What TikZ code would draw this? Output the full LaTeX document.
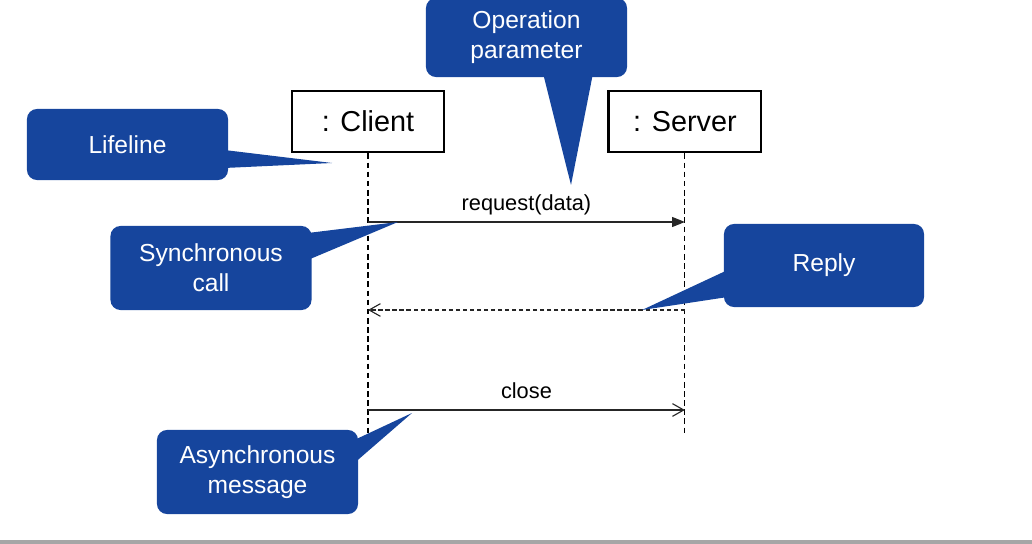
\documentclass[tikz,border=0pt]{standalone}
\usepackage{fontspec}
\setmainfont{Liberation Sans}
\usetikzlibrary{positioning, arrows.meta, calc}
\definecolor{calloutblue}{RGB}{22,69,157}
\definecolor{rulegray}{RGB}{166,166,166}
\newcommand{\Pointer}[3]{\fill[calloutblue] (#1) -- (#2) -- (#3) -- cycle;}
\tikzset{
    object/.style={draw, line width=2pt, minimum width=3.8cm, minimum height=1.525cm,
      inner sep=0pt, font=\fontsize{20.5pt}{24pt}\selectfont},
    lifeline/.style={line width=0.8pt, dash pattern=on 4pt off 2.5pt},
    note/.style={fill=calloutblue, rounded corners=0.25cm, text=white, align=center,
      minimum width=5.025cm, inner sep=0pt, font=\fontsize{17.5pt}{21.3pt}\selectfont},
    msg/.style={line width=0.8pt, draw=black!85},
    reply/.style={msg, dash pattern=on 3pt off 2pt, -{Straight Barb[length=8pt, width=9pt]}},
    msglabel/.style={above=2.5pt, text height=0.75em, text depth=0.22em,
      font=\fontsize{15.5pt}{18pt}\selectfont},
}
\begin{document}
\begin{tikzpicture}[x=0.025cm, y=-0.025cm]
    \useasboundingbox (0,0) rectangle (1032,544);
    \fill[rulegray] (0,540) rectangle (1032,544);

    \node[object] (client) at (368,121.5) {: Client};
    \node[object, right=4.05cm of client] (server) {: Server};
    \coordinate (clientend) at (client.south |- 0,435);
    \coordinate (serverend) at (server.south |- 0,435);
    \draw[lifeline] (client.south) -- (clientend);
    \draw[lifeline] (server.south) -- (serverend);

    % messages
    \coordinate (c1) at (client |- 0,222);
    \coordinate (s1) at (server |- 0,222);
    \coordinate (c2) at (client |- 0,310);
    \coordinate (s2) at (server |- 0,310);
    \coordinate (c3) at (client |- 0,410);
    \coordinate (s3) at (server |- 0,410);
    \draw[msg, -{Triangle[length=9pt, width=7pt]}] (c1) -- node[msglabel] {request(data)} (s1);
    \draw[reply] (s2) -- (c2);
    \draw[msg, -{Straight Barb[length=8pt, width=9pt]}] (c3) -- node[msglabel] {close} (s3);

    % callouts
    \node[note, minimum height=1.775cm] (lifenote) at (127.5,144.5) {Lifeline};
    \coordinate (lifetip) at (332,163);
    \Pointer{$(lifenote.east)+(-4,5.5)$}{lifetip}{$(lifenote.east)+(-4,23.5)$}

    \node[note, minimum height=1.975cm] (paramnote) at (526.5,37.5) {Operation\\parameter};
    \coordinate (paramtip) at (571,185);
    \Pointer{$(paramnote.south)+(16.5,-4)$}{paramtip}{$(paramnote.south)+(66.5,-4)$}

    \node[note, minimum height=2.1cm] (syncnote) at (211,268) {Synchronous\\call};
    \coordinate (synctip) at (398,222);
    \Pointer{$(syncnote.east)+(-4,-35)$}{synctip}{$(syncnote.east)+(-4,-8)$}

    \node[note, minimum width=5cm, minimum height=2.075cm] (replynote) at (824,265.5) {Reply};
    \coordinate (replytip) at (642,310);
    \Pointer{$(replynote.west)+(4,4.5)$}{replytip}{$(replynote.west)+(4,31.5)$}

    \node[note, minimum height=2.1cm] (asyncnote) at (257.5,472) {Asynchronous\\message};
    \coordinate (asynctip) at (412,413);
    \Pointer{$(asyncnote.east)+(-4,-32)$}{asynctip}{$(asyncnote.east)+(-4,-9)$}
\end{tikzpicture}
\end{document}
